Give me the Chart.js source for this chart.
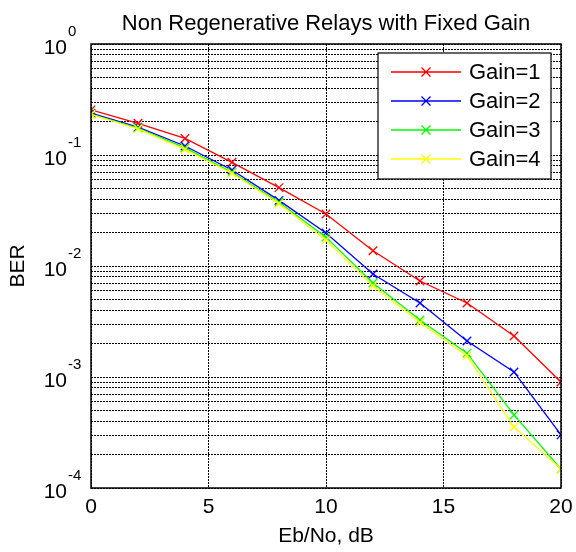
<!DOCTYPE html>
<html>
<head>
<meta charset="utf-8">
<script src="https://cdn.jsdelivr.net/npm/chart.js@4"></script>
<style>
  body { margin: 0; background: #fff; }
</style>
</head>
<body>
<canvas id="berChart" width="576" height="552"></canvas>
<script>
// Eb/No values (dB)
const ebno = [0, 2, 4, 6, 8, 10, 12, 14, 16, 18, 20];

// BER for each gain
const gain1 = [0.255, 0.193, 0.141, 0.0859, 0.0508, 0.0294, 0.0137, 0.00733, 0.00464, 0.00234, 0.000902];
const gain2 = [0.238, 0.178, 0.1205, 0.0733, 0.039, 0.0198, 0.00847, 0.00464, 0.00211, 0.00111, 0.000301];
const gain3 = [0.234, 0.175, 0.116, 0.070, 0.0375, 0.0182, 0.00703, 0.00326, 0.00164, 0.000455, 0.000148];
const gain4 = [0.232, 0.172, 0.1125, 0.0684, 0.0365, 0.0171, 0.0066, 0.0031, 0.00155, 0.000355, 0.000148];

const seriesNames = ['Gain=1', 'Gain=2', 'Gain=3', 'Gain=4'];
const seriesColors = ['#ff0000', '#0000ff', '#00ff00', '#ffff00'];
const xTicks = [0, 5, 10, 15, 20];
const yExponents = [-4, -3, -2, -1, 0];
const titleText = 'Non Regenerative Relays with Fixed Gain';

const FONT = "'Liberation Sans', Arial, sans-serif";

// major + minor log grid positions
const yGrid = [];
yExponents.forEach((e) => {
    if (e === 0) { yGrid.push(1); return; }
    for (let m = 1; m <= 9; m++) yGrid.push(m * Math.pow(10, e));
});

const allSeries = [gain1, gain2, gain3, gain4];
const datasets = allSeries.map((vals, i) => ({
    label: seriesNames[i],
    data: ebno.map((x, j) => ({ x: x, y: vals[j] })),
    borderColor: seriesColors[i],
    backgroundColor: seriesColors[i],
    borderWidth: 1.3,
    pointStyle: 'crossRot',
    pointRadius: 6,
    pointBorderWidth: 1.3,
    order: 4 - i,
    tension: 0
}));

// MATLAB-like extras: title over the axes, box, 10^n labels, legend
const matlabLook = {
    id: 'matlabLook',
    afterDatasetsDraw(chart) {
        const c = chart.ctx;
        const a = chart.chartArea;
        const ys = chart.scales.y;

        c.save();
        // title centred over the axes
        c.fillStyle = '#000';
        c.font = '22px ' + FONT;
        c.textAlign = 'center';
        c.textBaseline = 'alphabetic';
        c.fillText(titleText, (a.left + a.right) / 2, 30);

        // axes box
        c.strokeStyle = '#000';
        c.lineWidth = 1.5;
        c.strokeRect(a.left, a.top, a.right - a.left, a.bottom - a.top);

        // y tick labels 10^n
        yExponents.forEach((e) => {
            const py = ys.getPixelForValue(Math.pow(10, e));
            c.font = '21px ' + FONT;
            c.textAlign = 'right';
            c.fillText('10', a.left - 24, py + 9.5);
            c.font = '15px ' + FONT;
            c.textAlign = 'left';
            c.fillText(String(e), a.left - 23, py - 8);
        });

        // legend
        const bw = 173, bh = 126;
        const bx = a.right - 10 - bw, by = a.top + 9;
        c.fillStyle = '#fff';
        c.fillRect(bx, by, bw, bh);
        c.lineWidth = 1.2;
        c.strokeStyle = '#000';
        c.strokeRect(bx, by, bw, bh);
        seriesNames.forEach((name, i) => {
            const ry = by + 19 + i * 29;
            c.strokeStyle = seriesColors[i];
            c.lineWidth = 1.3;
            c.beginPath();
            c.moveTo(bx + 13, ry);
            c.lineTo(bx + 83, ry);
            const mx = bx + 48, r = 4.5;
            c.moveTo(mx - r, ry - r); c.lineTo(mx + r, ry + r);
            c.moveTo(mx - r, ry + r); c.lineTo(mx + r, ry - r);
            c.stroke();
            c.fillStyle = '#000';
            c.font = '22px ' + FONT;
            c.textAlign = 'left';
            c.textBaseline = 'middle';
            c.fillText(name, bx + 91, ry + 1);
        });
        c.restore();
    }
};

const config = {
    type: 'line',
    data: { datasets: datasets },
    options: {
        responsive: false,
        animation: false,
        layout: { padding: { top: 44, right: 15 } },
        plugins: {
            legend: { display: false },
            tooltip: { enabled: false },
            title: { display: false }
        },
        scales: {
            x: {
                type: 'linear',
                min: 0,
                max: 20,
                afterBuildTicks: (s) => { s.ticks = xTicks.map(v => ({ value: v })); },
                afterFit: (s) => {
                    s.height = 64;
                    s.paddingLeft = 0;
                    s.paddingRight = 0;
                },
                ticks: {
                    color: '#000',
                    font: { family: FONT, size: 21 },
                    padding: 7,
                    maxRotation: 0
                },
                grid: {
                    color: '#000',
                    lineWidth: 1,
                    drawTicks: false
                },
                border: { display: false, dash: [2, 1] },
                title: {
                    display: true,
                    text: 'Eb/No, dB',
                    color: '#000',
                    font: { family: FONT, size: 21 },
                    padding: { top: 0, bottom: 3 }
                }
            },
            y: {
                type: 'logarithmic',
                min: 1e-4,
                max: 1,
                afterBuildTicks: (s) => { s.ticks = yGrid.map(v => ({ value: v })); },
                afterFit: (s) => { s.width = 91; },
                ticks: { display: false },
                grid: {
                    color: '#000',
                    lineWidth: 1,
                    drawTicks: false
                },
                border: { display: false, dash: [2, 1] },
                title: {
                    display: true,
                    text: 'BER',
                    color: '#000',
                    font: { family: FONT, size: 21 },
                    padding: { top: 6, bottom: 0 }
                }
            }
        }
    },
    plugins: [matlabLook]
};

const ctx = document.getElementById('berChart').getContext('2d');
const berChart = new Chart(ctx, config);
</script>
</body>
</html>
